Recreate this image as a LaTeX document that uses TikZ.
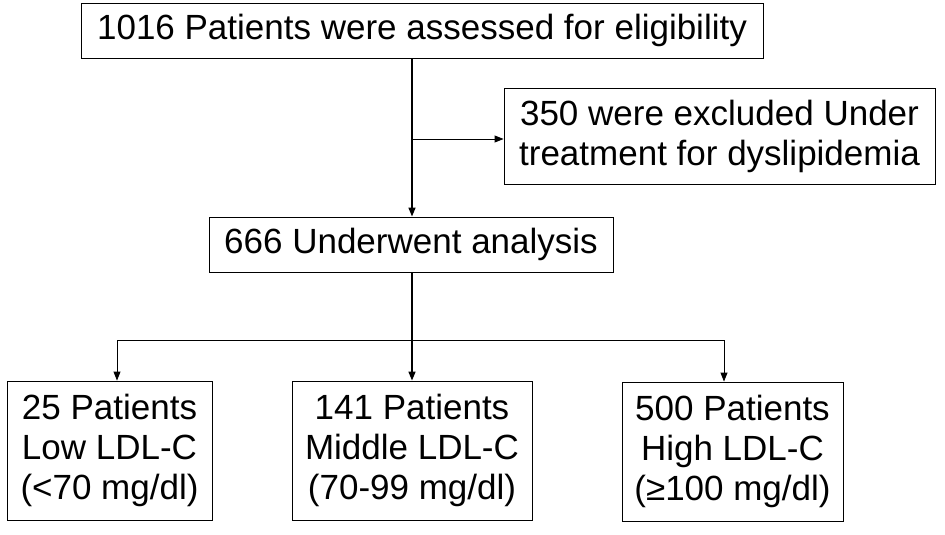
\documentclass[tikz,border=0pt]{standalone}
\usepackage{fontspec}
\setmainfont{Liberation Sans}
\usetikzlibrary{arrows.meta}
\begin{document}
\begin{tikzpicture}[x=1pt,y=-1pt,
  box/.style={draw, line width=0.9pt, inner sep=0pt, align=center,
              font=\fontsize{35}{40}\selectfont},
  link/.style={line width=0.9pt},
  trunk/.style={line width=1.6pt},
  tip/.style={-{Triangle[length=9pt,width=7pt]}}]
\useasboundingbox[fill=white] (0,0) rectangle (945,535);
\node[box, minimum width=682pt, minimum height=55pt] (top) at (422,30.5)
  {1016 Patients were assessed for eligibility};
\node[box, minimum width=431pt, minimum height=96pt] (excl) at (719.5,136)
  {350 were excluded Under\\treatment for dyslipidemia};
\node[box, minimum width=404pt, minimum height=55pt] (anal) at (411,244.5)
  {666 Underwent analysis};
\node[box, minimum width=205pt, minimum height=139pt] (low) at (109.5,450.5)
  {25 Patients\\Low LDL-C\\(<70 mg/dl)};
\node[box, minimum width=240pt, minimum height=139pt] (mid) at (412,450.5)
  {141 Patients\\Middle LDL-C\\(70-99 mg/dl)};
\node[box, minimum width=221pt, minimum height=139pt] (high) at (732.5,451.5)
  {500 Patients\\High LDL-C\\(≥100 mg/dl)};
\coordinate (tx) at (412,0);
\coordinate (split) at (412,139);
\coordinate (lowx) at (117,340);
\coordinate (highx) at (724,340);
\draw[trunk, tip] (top.south -| tx) -- (anal.north -| tx);
\draw[link, tip] (split) -- (split -| excl.west);
\draw[trunk, tip] (anal.south -| tx) -- (mid.north -| tx);
\draw[link] (lowx) -- (highx);
\draw[link, tip] (lowx) -- (lowx |- low.north);
\draw[link, tip] (highx) -- (highx |- high.north);
\end{tikzpicture}
\end{document}
